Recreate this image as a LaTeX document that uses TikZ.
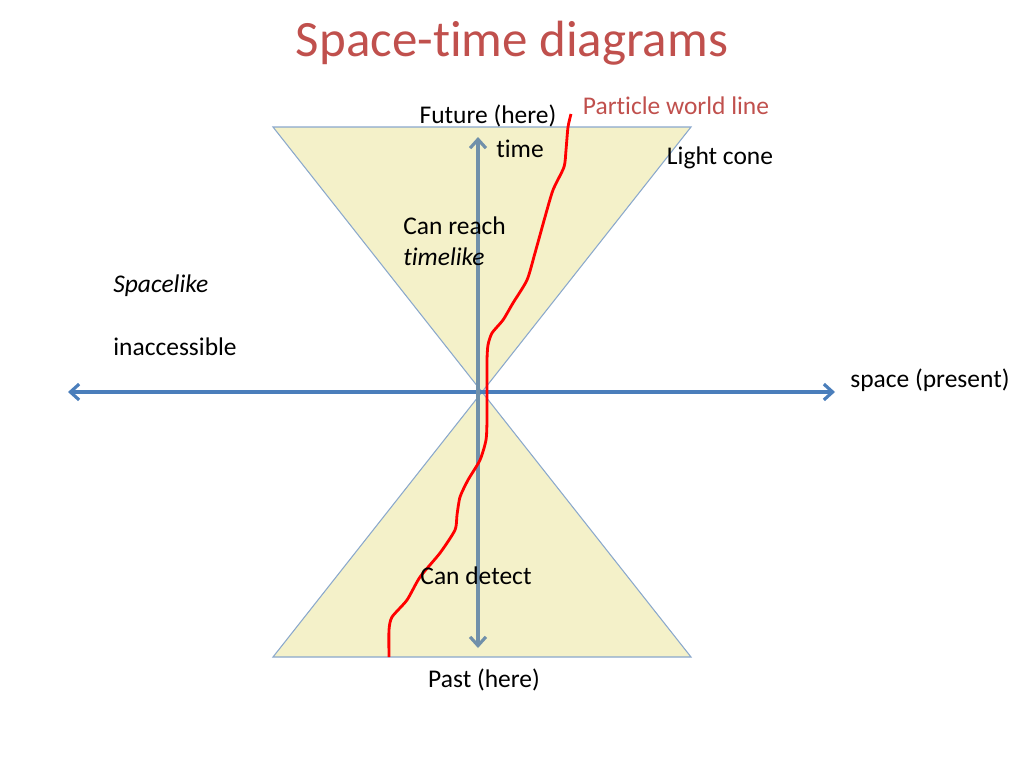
\documentclass[tikz,border=0pt]{standalone}
\usepackage{fontspec}
\setmainfont{Carlito}[Ligatures=CommonOff]
\usepackage{tikz}
\usetikzlibrary{arrows.meta}
\definecolor{titlered}{HTML}{C0504D}
\definecolor{conefill}{HTML}{F4F1C9}
\definecolor{coneedge}{HTML}{8AA8CC}
\definecolor{spaceblue}{HTML}{4A7EBB}
\definecolor{timeblue}{HTML}{7090AA}
\tikzset{
	lbl/.style={inner sep=0pt, font=\fontsize{14.5}{17}\selectfont},
	cone/.style={fill=conefill, draw=coneedge, line width=0.6pt},
	axis/.style={line width=1.8pt, {Straight Barb[length=5pt,width=9pt]}-{Straight Barb[length=5pt,width=9pt]}}
}
\begin{document}
\begin{tikzpicture}[x=0.02cm,y=-0.02cm]
				\useasboundingbox (0,0) rectangle (1024,768);
				% light cone
				\draw[cone] (273,127) -- (691,127) -- (482,392) -- cycle;
				\draw[cone] (482,392) -- (273,657) -- (691,657) -- cycle;
				
				\coordinate (L) at (68,392);
				\coordinate (R) at (835,392);
				\coordinate (T) at (478,137);
				\coordinate (B) at (478,648);
				\draw[axis, spaceblue] (L) -- (R);
				\draw[axis, timeblue] (B) -- (T);
				
				% world line
				\draw[red, line width=1.6pt, line join=round] plot[smooth, tension=0.4] coordinates {(571,114) (568,127) (566,150) (564,167) (553,190) (545,217) (535,253) (527,280) (513,303) (503,320) (492,333) (488,345) (487,360) (487,390) (487,420) (486,440) (480,460) (468,480) (460,497) (457,515) (455,530) (440,553) (420,577) (407,600) (392,617) (389,630) (389,657)};
				
				\node[font=\fontsize{29}{34}\selectfont, text=titlered] (title) at (512,43) {Space-time diagrams};
				\node[lbl] (future) at (488,116) {Future (here)};
				\node[lbl, text=titlered] (particle) at (676,106) {Particle world line};
				\node[lbl] (time) at (520,149) {time};
				\node[lbl] (lightcone) at (720,158) {Light cone};
				\node[lbl, anchor=west] (reach) at (403,226) {Can reach};
				\node[lbl, anchor=west] (timelike) at (403,257) {\itshape timelike};
				\node[lbl, anchor=west] (spacelike) at (113,286) {\itshape Spacelike};
				\node[lbl, anchor=west] (inacc) at (113,347) {inaccessible};
				\node[lbl, anchor=west] (space) at (850,380) {space (present)};
				\node[lbl] (detect) at (476,576) {Can detect};
				\node[lbl] (past) at (484,680) {Past (here)};
			\end{tikzpicture}
\end{document}
